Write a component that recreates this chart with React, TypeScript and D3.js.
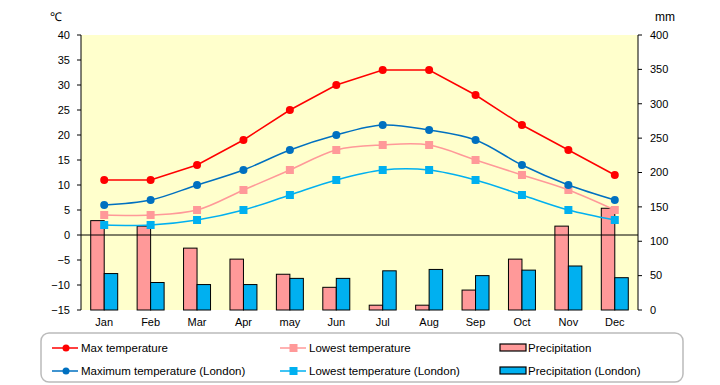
import React from "react";
import * as d3 from "d3";

const months = ["Jan", "Feb", "Mar", "Apr", "may", "Jun", "Jul", "Aug", "Sep", "Oct", "Nov", "Dec"];
const maxTemp = [11, 11, 14, 19, 25, 30, 33, 33, 28, 22, 17, 12];
const lowTemp = [4, 4, 5, 9, 13, 17, 18, 18, 15, 12, 9, 5];
const maxTempLondon = [6, 7, 10, 13, 17, 20, 22, 21, 19, 14, 10, 7];
const lowTempLondon = [2, 2, 3, 5, 8, 11, 13, 13, 11, 8, 5, 3];
const precip = [130, 122, 90, 74, 52, 33, 7, 7, 29, 74, 122, 148];
const precipLondon = [53, 40, 37, 37, 46, 46, 57, 59, 50, 58, 64, 47];
const leftTicks = [-15, -10, -5, 0, 5, 10, 15, 20, 25, 30, 35, 40];
const rightTicks = [0, 50, 100, 150, 200, 250, 300, 350, 400];

const W = 720, H = 385;
const L = 81, R = 638, T = 35, B = 310;
const FONT = "'Liberation Sans', Arial, sans-serif";

export default function App() {
  const x = d3.scaleBand<string>().domain(months).range([L, R]).padding(0);
  const sub = d3.scaleBand<string>().domain(["a", "b"]).range([0, x.bandwidth()]).paddingInner(0).paddingOuter(0.72);
  const yT = d3.scaleLinear().domain([-15, 40]).range([B, T]);
  const yP = d3.scaleLinear().domain([0, 400]).range([B, T]);
  const cx = (i: number) => (x(months[i]) as number) + x.bandwidth() / 2;

  const lineLin = d3.line<number>().x((_, i) => cx(i)).y((d) => yT(d));
  const lineSmooth = d3.line<number>().x((_, i) => cx(i)).y((d) => yT(d)).curve(d3.curveCatmullRom.alpha(0.5));

  const series = [
    { data: maxTemp, color: "#FF0000", shape: "circle", gen: lineLin },
    { data: lowTemp, color: "#FF9999", shape: "square", gen: lineSmooth },
    { data: maxTempLondon, color: "#0070C0", shape: "circle", gen: lineSmooth },
    { data: lowTempLondon, color: "#00B0F0", shape: "square", gen: lineSmooth },
  ];

  const legendItems = [
    { label: "Max temperature", color: "#FF0000", kind: "circle", x: 52, y: 348 },
    { label: "Lowest temperature", color: "#FF9999", kind: "square", x: 280, y: 348 },
    { label: "Precipitation", color: "#FF9999", kind: "bar", x: 500, y: 348 },
    { label: "Maximum temperature (London)", color: "#0070C0", kind: "circle", x: 52, y: 371 },
    { label: "Lowest temperature (London)", color: "#00B0F0", kind: "square", x: 280, y: 371 },
    { label: "Precipitation (London)", color: "#00B0F0", kind: "bar", x: 500, y: 371 },
  ];

  return (
    <svg width={W} height={H} style={{ position: "absolute", left: 0, top: 0, display: "block" }} fontFamily={FONT}>
      <rect x={0} y={0} width={W} height={H} fill="#fff" />
      <rect x={L} y={T} width={R - L} height={B - T} fill="#FFFFCC" />
      {/* bars */}
      {months.map((m, i) => (
        <g key={m}>
          <rect x={(x(m) as number) + (sub("a") as number)} y={yP(precip[i])} width={sub.bandwidth()} height={yP(0) - yP(precip[i])} fill="#FF9999" stroke="#000" strokeWidth={1} />
          <rect x={(x(m) as number) + (sub("b") as number)} y={yP(precipLondon[i])} width={sub.bandwidth()} height={yP(0) - yP(precipLondon[i])} fill="#00B0F0" stroke="#000" strokeWidth={1} />
        </g>
      ))}
      {/* zero axis */}
      <line x1={L} x2={R} y1={yT(0)} y2={yT(0)} stroke="#000" strokeWidth={1} />
      {/* lines */}
      {series.map((s, k) => (
        <g key={k}>
          <path d={s.gen(s.data) as string} fill="none" stroke={s.color} strokeWidth={1.5} />
          {s.data.map((d, i) =>
            s.shape === "circle" ? (
              <circle key={i} cx={cx(i)} cy={yT(d)} r={4} fill={s.color} />
            ) : (
              <rect key={i} x={cx(i) - 4} y={yT(d) - 4} width={8} height={8} fill={s.color} />
            )
          )}
        </g>
      ))}
      {/* left axis */}
      <line x1={L} x2={L} y1={T} y2={B} stroke="#000" strokeWidth={1} />
      {leftTicks.map((t) => (
        <g key={t}>
          <line x1={L - 4} x2={L} y1={yT(t)} y2={yT(t)} stroke="#000" />
          <text x={70} y={yT(t)} dy="0.35em" textAnchor="end" fontSize={11} fill="#000">{t < 0 ? "\u2212" + Math.abs(t) : t}</text>
        </g>
      ))}
      {/* right axis */}
      <line x1={R} x2={R} y1={T} y2={B} stroke="#000" strokeWidth={1} />
      {rightTicks.map((t) => (
        <g key={t}>
          <line x1={R} x2={R + 4} y1={yP(t)} y2={yP(t)} stroke="#000" />
          <text x={650} y={yP(t)} dy="0.35em" textAnchor="start" fontSize={11} fill="#000">{t}</text>
        </g>
      ))}
      <text x={56} y={21} textAnchor="middle" fontSize={12}>℃</text>
      <text x={665} y={21} textAnchor="middle" fontSize={12}>mm</text>
      {/* x labels */}
      {months.map((m, i) => (
        <text key={m} x={cx(i)} y={322} dy="0.35em" textAnchor="middle" fontSize={11}>{m}</text>
      ))}
      {/* legend */}
      <rect x={41} y={333} width={642} height={49} rx={8} ry={8} fill="#fff" stroke="#BBBBBB" strokeWidth={1.5} />
      {legendItems.map((it) => (
        <g key={it.label}>
          {it.kind === "bar" ? (
            <rect x={it.x} y={it.y - 4} width={26} height={7} fill={it.color} stroke="#000" strokeWidth={1.2} />
          ) : (
            <>
              <line x1={it.x} x2={it.x + 26} y1={it.y} y2={it.y} stroke={it.color} strokeWidth={1.5} />
              {it.kind === "circle" ? (
                <circle cx={it.x + 14} cy={it.y} r={3.5} fill={it.color} />
              ) : (
                <rect x={it.x + 9.5} y={it.y - 4} width={8} height={8} fill={it.color} />
              )}
            </>
          )}
          <text x={it.x + (it.kind === "bar" ? 28 : 29)} y={it.y} dy="0.35em" fontSize={11.5}>{it.label}</text>
        </g>
      ))}
    </svg>
  );
}
